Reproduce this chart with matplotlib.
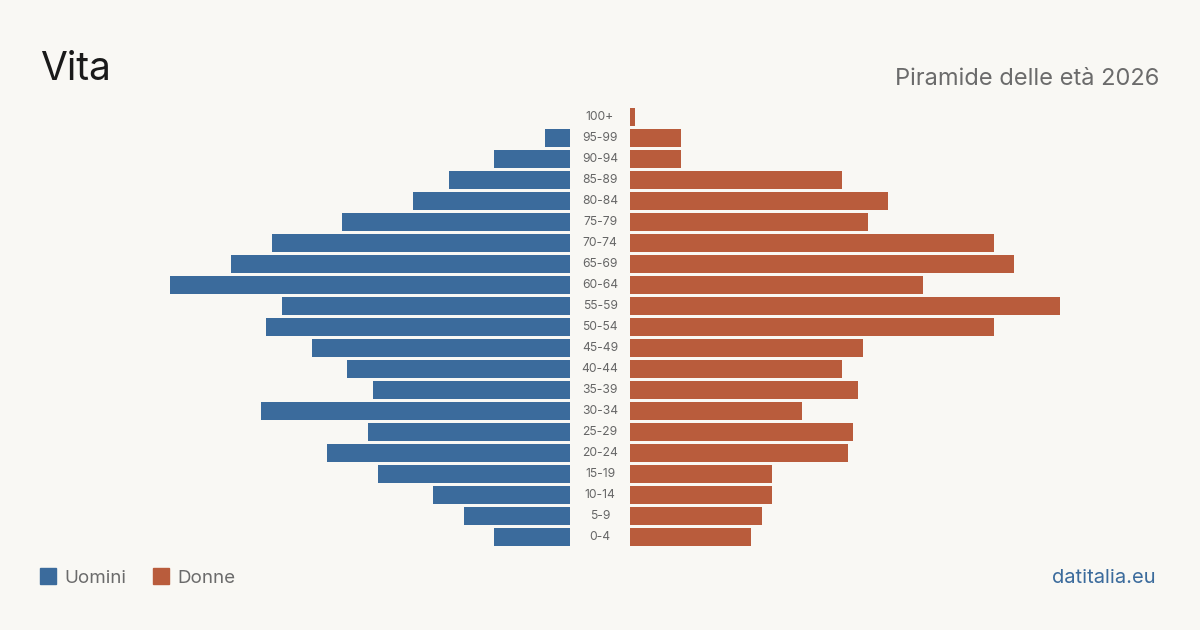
import matplotlib.pyplot as plt
from matplotlib.patches import Rectangle

# Fasce d'età, dalla più giovane alla più anziana
eta = ['0-4', '5-9', '10-14', '15-19', '20-24', '25-29', '30-34', '35-39',
       '40-44', '45-49', '50-54', '55-59', '60-64', '65-69', '70-74',
       '75-79', '80-84', '85-89', '90-94', '95-99', '100+']

# Valori (scala relativa)
uomini = [76, 106, 137, 192, 243, 202, 309, 197, 223, 258, 304, 288,
          400, 339, 298, 228, 157, 121, 76, 25, 0]
donne = [121, 132, 142, 142, 218, 223, 172, 228, 212, 233, 364, 430,
         293, 384, 364, 238, 258, 212, 51, 51, 5]

BLU = '#3b6b9c'
ROSSO = '#b95c3c'
SFONDO = '#f9f8f4'
W, H = 1200, 630

plt.rcParams['font.family'] = ['Inter', 'DejaVu Sans']

fig = plt.figure(figsize=(12, 6.3), dpi=100)
fig.patch.set_facecolor(SFONDO)

def box(x0, y0, x1, y1):
    # pixel (origine in alto a sinistra) -> coordinate figura
    return [x0 / W, 1 - y1 / H, (x1 - x0) / W, (y1 - y0) / H]

ax_l = fig.add_axes(box(40, 106.5, 570, 547.5))
ax_r = fig.add_axes(box(630, 106.5, 1160, 547.5))
ypos = range(len(eta))

ax_l.barh(ypos, uomini, height=0.81, color=BLU)
ax_r.barh(ypos, donne, height=0.81, color=ROSSO)
ax_l.set_xlim(530, 0)
ax_r.set_xlim(0, 530)

for ax in (ax_l, ax_r):
    ax.set_ylim(-0.5, len(eta) - 0.5)
    ax.set_facecolor('none')
    ax.axis('off')

for i, lab in enumerate(eta):
    ax_r.text(-30, i, lab, ha='center', va='center', fontsize=8.7,
              color='#666666', transform=ax_r.transData, clip_on=False)

fig.text(40 / W, 1 - 80 / H, 'Vita', fontsize=28, color='#1a1a1a',
         ha='left', va='baseline')
fig.text(1159 / W, 1 - 85 / H, 'Piramide delle età 2026', fontsize=17,
         color='#6b6b6b', ha='right', va='baseline')

# Legenda
fig.patches.append(Rectangle((40 / W, 1 - 584 / H), 16 / W, 16 / H,
                             transform=fig.transFigure, color=BLU))
fig.text(64 / W, 1 - 583 / H, 'Uomini', fontsize=13.5, color='#6b6b6b',
         ha='left', va='baseline')
fig.patches.append(Rectangle((153 / W, 1 - 584 / H), 16 / W, 16 / H,
                             transform=fig.transFigure, color=ROSSO))
fig.text(177 / W, 1 - 583 / H, 'Donne', fontsize=13.5, color='#6b6b6b',
         ha='left', va='baseline')

fig.text(1156 / W, 1 - 583 / H, 'datitalia.eu', fontsize=14.5, color=BLU,
         ha='right', va='baseline')

plt.savefig('out.png', dpi=100, facecolor=SFONDO)
